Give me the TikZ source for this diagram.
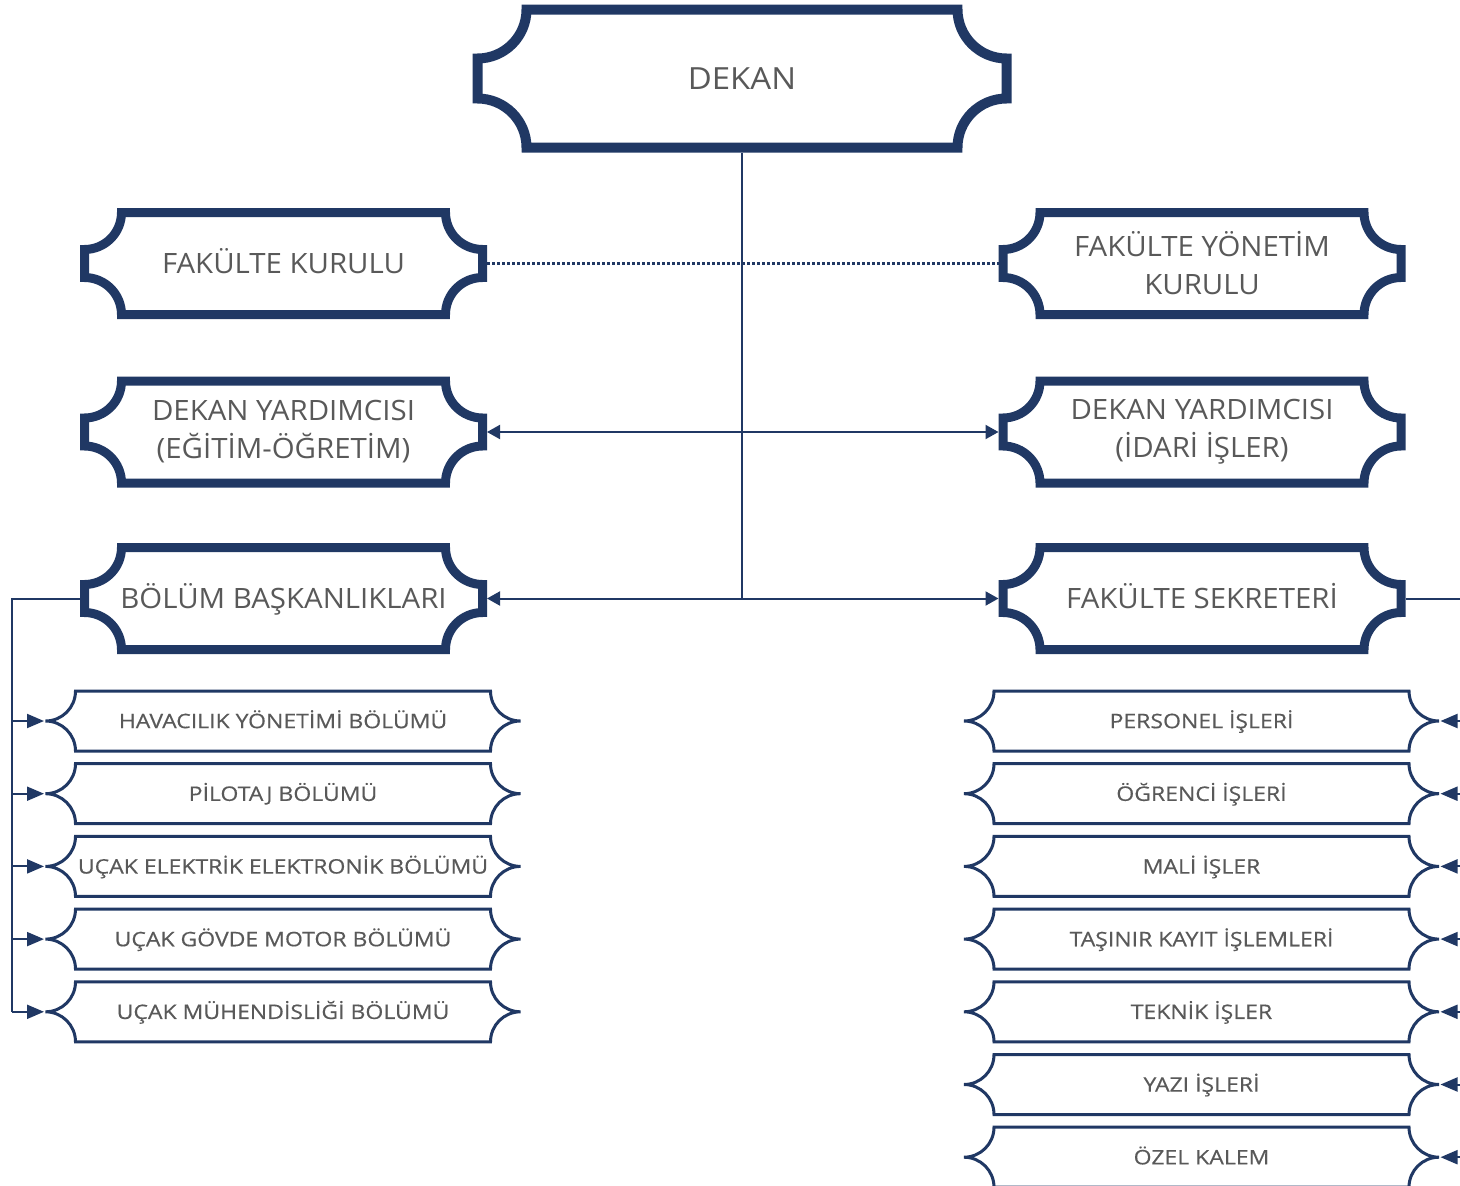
\documentclass[tikz,border=0pt]{standalone}
\usepackage{fontspec}
\setmainfont{Open Sans}
\newfontfamily\bigfam{Open Sans}[FakeStretch=1.05]
\newfontfamily\dekanfam{Open Sans}[FakeStretch=1.08]
\newfontfamily\smallfam{Open Sans}[FakeStretch=1.15,FakeBold=0.4]
\usetikzlibrary{arrows.meta}
\definecolor{navy}{HTML}{203864}
\definecolor{txt}{HTML}{595959}
\makeatletter
\pgfkeys{/pgf/plaque radius/.initial=20pt}
\pgfdeclareshape{plaque}{
  \inheritsavedanchors[from=rectangle]
  \inheritanchorborder[from=rectangle]
  \inheritanchor[from=rectangle]{center}
  \inheritanchor[from=rectangle]{north}
  \inheritanchor[from=rectangle]{south}
  \inheritanchor[from=rectangle]{east}
  \inheritanchor[from=rectangle]{west}
  \inheritanchor[from=rectangle]{north east}
  \inheritanchor[from=rectangle]{north west}
  \inheritanchor[from=rectangle]{south east}
  \inheritanchor[from=rectangle]{south west}
  \inheritanchor[from=rectangle]{mid}
  \inheritanchor[from=rectangle]{base}
  \backgroundpath{%
    \pgfpointadd{\southwest}{\pgfpoint{\pgfkeysvalueof{/pgf/outer xsep}}{\pgfkeysvalueof{/pgf/outer ysep}}}%
    \edef\plq@xa{\the\pgf@x}\edef\plq@ya{\the\pgf@y}%
    \pgfpointadd{\northeast}{\pgfpointscale{-1}{\pgfpoint{\pgfkeysvalueof{/pgf/outer xsep}}{\pgfkeysvalueof{/pgf/outer ysep}}}}%
    \edef\plq@xb{\the\pgf@x}\edef\plq@yb{\the\pgf@y}%
    \pgfmathsetlengthmacro\plq@r{\pgfkeysvalueof{/pgf/plaque radius}}%
    \pgfpathmoveto{\pgfpoint{\plq@xa+\plq@r}{\plq@yb}}%
    \pgfpathlineto{\pgfpoint{\plq@xb-\plq@r}{\plq@yb}}%
    \pgfpatharc{180}{270}{\plq@r}%
    \pgfpathlineto{\pgfpoint{\plq@xb}{\plq@ya+\plq@r}}%
    \pgfpatharc{90}{180}{\plq@r}%
    \pgfpathlineto{\pgfpoint{\plq@xa+\plq@r}{\plq@ya}}%
    \pgfpatharc{0}{90}{\plq@r}%
    \pgfpathlineto{\pgfpoint{\plq@xa}{\plq@yb-\plq@r}}%
    \pgfpatharc{270}{360}{\plq@r}%
    \pgfpathclose
  }
}
\makeatother
\newcommand\fdekan{\dekanfam\fontsize{30.5}{38}\selectfont}
\newcommand\fbig{\bigfam\fontsize{28}{38}\selectfont}
\newcommand\fsmall{\smallfam\fontsize{20}{24}\selectfont}
\tikzset{
  bigbox/.style={shape=plaque, draw=navy, fill=white, line width=9pt, outer sep=4.5pt,
    inner sep=0pt, minimum width=398pt, minimum height=102pt, plaque radius=37pt,
    text=txt, font=\fbig, align=center},
  oneline/.style={text height=20pt, text depth=0pt},
  smallbox/.style={shape=plaque, draw=navy, fill=white, line width=3pt, outer sep=1.5pt,
    inner sep=0pt, minimum width=475pt, minimum height=60pt, plaque radius=30pt,
    text=txt, font=\fsmall, text height=14.3pt, text depth=0pt},
  conn/.style={draw=navy, line width=2pt},
  dotline/.style={draw=navy, line width=2.5pt, dash pattern=on 2.5pt off 2.5pt},
  bigarrow/.style={-{Triangle[length=13pt,width=14pt]}},
  smallarrow/.style={-{Triangle[length=17pt,width=14pt]}}
}
\begin{document}
\begin{tikzpicture}[x=1pt,y=1pt]
\clip (0,0) rectangle (1460,-1186);
\fill[white] (0,0) rectangle (1460,-1186);
\node[bigbox, minimum width=529pt, minimum height=138pt, plaque radius=49pt,
  line width=10pt, outer sep=5pt, font=\fdekan, text height=21.8pt, text depth=0pt] (dekan) at (742,-78.5) {DEKAN};
\node[bigbox, oneline] (fk)  at (283.5,-263.5) {FAKÜLTE KURULU};
\node[bigbox] (fyk) at (1202,-263.5) {FAKÜLTE YÖNETİM\\KURULU};
\node[bigbox] (dy1) at (283.5,-432) {DEKAN YARDIMCISI\\(EĞİTİM-ÖĞRETİM)};
\node[bigbox] (dy2) at (1202,-432) {DEKAN YARDIMCISI\\(İDARİ İŞLER)};
\node[bigbox, oneline] (bb)  at (283.5,-598.5) {BÖLÜM BAŞKANLIKLARI};
\node[bigbox, oneline] (fs)  at (1202,-598.5) {FAKÜLTE SEKRETERİ};
% left small boxes
\node[smallbox] (l1) at (283,-721) {HAVACILIK YÖNETİMİ BÖLÜMÜ};
\node[smallbox] (l2) at (283,-793.7) {PİLOTAJ BÖLÜMÜ};
\node[smallbox] (l3) at (283,-866.4) {UÇAK ELEKTRİK ELEKTRONİK BÖLÜMÜ};
\node[smallbox] (l4) at (283,-939.1) {UÇAK GÖVDE MOTOR BÖLÜMÜ};
\node[smallbox] (l5) at (283,-1011.8) {UÇAK MÜHENDİSLİĞİ BÖLÜMÜ};
% right small boxes
\node[smallbox] (r1) at (1201.5,-721) {PERSONEL İŞLERİ};
\node[smallbox] (r2) at (1201.5,-793.7) {ÖĞRENCİ İŞLERİ};
\node[smallbox] (r3) at (1201.5,-866.4) {MALİ İŞLER};
\node[smallbox] (r4) at (1201.5,-939.1) {TAŞINIR KAYIT İŞLEMLERİ};
\node[smallbox] (r5) at (1201.5,-1011.8) {TEKNİK İŞLER};
\node[smallbox] (r6) at (1201.5,-1084.5) {YAZI İŞLERİ};
\node[smallbox] (r7) at (1201.5,-1157.2) {ÖZEL KALEM};
% trunk
\coordinate (j1) at (dekan.south |- dy1.east);
\coordinate (j2) at (dekan.south |- bb.east);
\draw[conn] (dekan.south) -- (j2);
\draw[dotline] (fk.east |- fyk.west) -- (fyk.west);
\draw[conn, bigarrow] (j1) -- (dy1.east);
\draw[conn, bigarrow] (j1) -- (dy2.west);
\draw[conn, bigarrow] (j2) -- (bb.east);
\draw[conn, bigarrow] (j2) -- (fs.west);
% left branch
\coordinate (lt) at (bb.west -| 12,0);
\draw[conn] (bb.west) -- (lt) -- (lt |- l5.west);
\foreach \n in {l1,l2,l3,l4,l5}{
  \draw[conn, smallarrow] (lt |- \n.west) -- (\n.west);
}
% right branch
\coordinate (rt) at (fs.east -| 1472,0);
\coordinate (rb) at (rt |- 0,-1200);
\draw[conn] (fs.east) -- (rt) -- (rb);
\foreach \n in {r1,r2,r3,r4,r5,r6,r7}{
  \draw[conn, smallarrow] (rt |- \n.east) -- (\n.east);
}
\end{tikzpicture}
\end{document}
